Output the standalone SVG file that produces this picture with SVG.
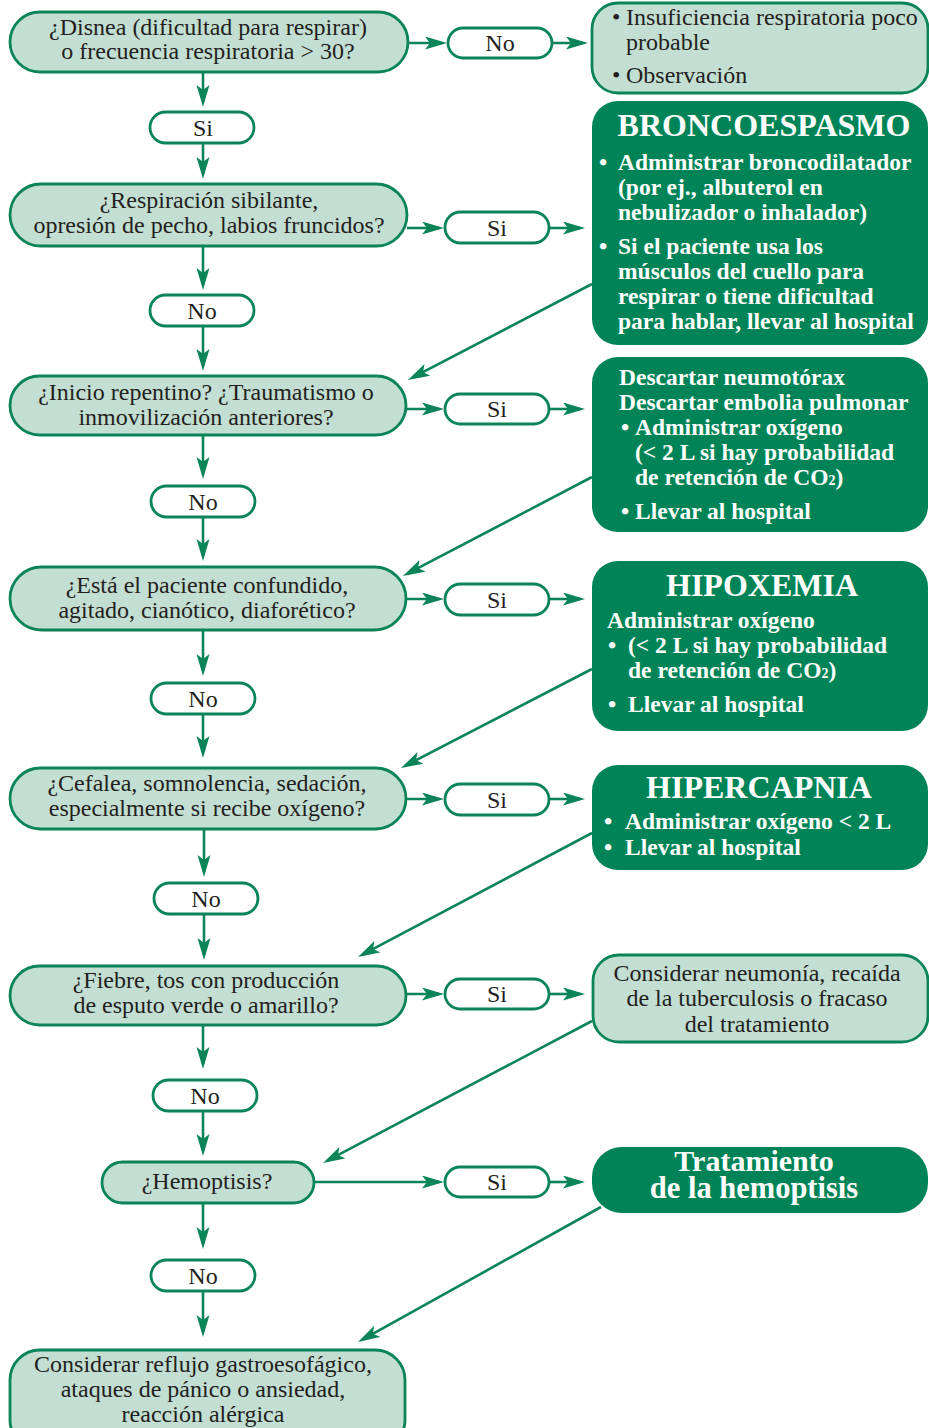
<svg xmlns="http://www.w3.org/2000/svg" width="929" height="1428" viewBox="0 0 929 1428">
  <defs>
    <style>
      .q { fill: #c3ded2; stroke: #0a8458; stroke-width: 2.8; }
      .d { fill: #008457; }
      .p { fill: #ffffff; stroke: #0a8458; stroke-width: 2.8; }
      .t { font-family: "Liberation Serif", "Times New Roman", serif; font-size: 24px; fill: #231f20; }
      .c { text-anchor: middle; }
      .w { font-weight: bold; fill: #ffffff; font-size: 23.5px; }
      .h { font-size: 32px; }
      .conn line { stroke: #0a8458; stroke-width: 2.6; fill: none; marker-end: url(#ah); }
    </style>
    <marker id="ah" markerUnits="userSpaceOnUse" markerWidth="24" markerHeight="14" refX="17" refY="6.5" orient="auto">
      <path d="M0,0 L22,6.5 L0,13 L5,6.5 Z" fill="#0a8458"/>
    </marker>
  </defs>
  <rect width="929" height="1428" fill="#ffffff"/>

  <!-- connectors -->
  <g id="connectors" class="conn">
    <!-- main vertical chain -->
    <line x1="203" y1="72" x2="203" y2="102"/>
    <line x1="203" y1="143" x2="203" y2="174"/>
    <line x1="203" y1="246" x2="203" y2="285"/>
    <line x1="203" y1="326" x2="203" y2="366"/>
    <line x1="203" y1="435" x2="203" y2="474"/>
    <line x1="203" y1="517" x2="203" y2="556"/>
    <line x1="203" y1="630" x2="203" y2="671"/>
    <line x1="203" y1="714" x2="203" y2="753"/>
    <line x1="204" y1="829" x2="204" y2="872"/>
    <line x1="204" y1="914" x2="204" y2="955"/>
    <line x1="203" y1="1025" x2="203" y2="1064"/>
    <line x1="203" y1="1111" x2="203" y2="1151"/>
    <line x1="203" y1="1203" x2="203" y2="1244"/>
    <line x1="203" y1="1291" x2="203" y2="1332"/>
    <!-- horizontal branches -->
    <line x1="408" y1="43" x2="442" y2="43"/>
    <line x1="552" y1="43" x2="583" y2="43"/>
    <line x1="407" y1="228" x2="439" y2="228"/>
    <line x1="549" y1="228" x2="580" y2="228"/>
    <line x1="406" y1="409" x2="439" y2="409"/>
    <line x1="549" y1="409" x2="580" y2="409"/>
    <line x1="406" y1="599" x2="439" y2="599"/>
    <line x1="549" y1="599" x2="580" y2="599"/>
    <line x1="406" y1="799" x2="439" y2="799"/>
    <line x1="549" y1="799" x2="580" y2="799"/>
    <line x1="406" y1="994" x2="439" y2="994"/>
    <line x1="549" y1="994" x2="580" y2="994"/>
    <line x1="314" y1="1182" x2="439" y2="1182"/>
    <line x1="549" y1="1182" x2="580" y2="1182"/>
    <!-- return links from the result boxes -->
    <line x1="592" y1="284" x2="412.4" y2="377.7"/>
    <line x1="592" y1="477" x2="407.4" y2="573.7"/>
    <line x1="592" y1="669" x2="405.4" y2="765.7"/>
    <line x1="592" y1="833" x2="362.4" y2="954.7"/>
    <line x1="592" y1="1021" x2="327.4" y2="1160.7"/>
    <line x1="601" y1="1207" x2="362.4" y2="1339.6"/>
  </g>

  <!-- questions -->
  <g id="q1">
    <rect class="q" x="10" y="12" width="398" height="60" rx="30"/>
    <text class="t c" x="208" y="35">¿Disnea (dificultad para respirar)</text>
    <text class="t c" x="208" y="59">o frecuencia respiratoria &gt; 30?</text>
  </g>
  <g id="q2">
    <rect class="q" x="10" y="184" width="397" height="62" rx="31"/>
    <text class="t c" x="209" y="208">¿Respiración sibilante,</text>
    <text class="t c" x="209" y="233">opresión de pecho, labios fruncidos?</text>
  </g>
  <g id="q3">
    <rect class="q" x="10" y="376" width="396" height="59" rx="29.5"/>
    <text class="t c" x="206" y="400">¿Inicio repentino? ¿Traumatismo o</text>
    <text class="t c" x="206" y="425">inmovilización anteriores?</text>
  </g>
  <g id="q4">
    <rect class="q" x="10" y="567" width="396" height="63" rx="31.5"/>
    <text class="t c" x="207" y="593">¿Está el paciente confundido,</text>
    <text class="t c" x="207" y="618">agitado, cianótico, diaforético?</text>
  </g>
  <g id="q5">
    <rect class="q" x="10" y="768" width="396" height="61" rx="30.5"/>
    <text class="t c" x="207" y="791">¿Cefalea, somnolencia, sedación,</text>
    <text class="t c" x="207" y="816">especialmente si recibe oxígeno?</text>
  </g>
  <g id="q6">
    <rect class="q" x="10" y="966" width="396" height="59" rx="29.5"/>
    <text class="t c" x="206" y="988">¿Fiebre, tos con producción</text>
    <text class="t c" x="206" y="1013">de esputo verde o amarillo?</text>
  </g>
  <g id="q7">
    <rect class="q" x="102" y="1162" width="212" height="41" rx="20.5"/>
    <text class="t c" x="207" y="1189">¿Hemoptisis?</text>
  </g>
  <g id="end-other">
    <rect class="q" x="10" y="1350" width="395" height="100" rx="30"/>
    <text class="t c" x="203" y="1372">Considerar reflujo gastroesofágico,</text>
    <text class="t c" x="203" y="1397">ataques de pánico o ansiedad,</text>
    <text class="t c" x="203" y="1422">reacción alérgica</text>
  </g>

  <!-- answer labels -->
  <g id="a-no-1"><rect class="p" x="448" y="28" width="104" height="30" rx="15"/><text class="t c" x="500" y="51">No</text></g>
  <g id="a-si-1"><rect class="p" x="150" y="112" width="104" height="31" rx="15.5"/><text class="t c" x="203" y="136">Si</text></g>
  <g id="a-si-2"><rect class="p" x="445" y="212" width="104" height="31" rx="15.5"/><text class="t c" x="497" y="236">Si</text></g>
  <g id="a-no-2"><rect class="p" x="150" y="295" width="104" height="31" rx="15.5"/><text class="t c" x="202" y="319">No</text></g>
  <g id="a-si-3"><rect class="p" x="445" y="394" width="104" height="30" rx="15"/><text class="t c" x="497" y="417">Si</text></g>
  <g id="a-no-3"><rect class="p" x="151" y="486" width="104" height="31" rx="15.5"/><text class="t c" x="203" y="510">No</text></g>
  <g id="a-si-4"><rect class="p" x="445" y="584" width="104" height="31" rx="15.5"/><text class="t c" x="497" y="608">Si</text></g>
  <g id="a-no-4"><rect class="p" x="151" y="683" width="104" height="31" rx="15.5"/><text class="t c" x="203" y="707">No</text></g>
  <g id="a-si-5"><rect class="p" x="445" y="784" width="104" height="31" rx="15.5"/><text class="t c" x="497" y="808">Si</text></g>
  <g id="a-no-5"><rect class="p" x="154" y="883" width="104" height="31" rx="15.5"/><text class="t c" x="206" y="907">No</text></g>
  <g id="a-si-6"><rect class="p" x="445" y="979" width="104" height="30" rx="15"/><text class="t c" x="497" y="1002">Si</text></g>
  <g id="a-no-6"><rect class="p" x="153" y="1080" width="104" height="31" rx="15.5"/><text class="t c" x="205" y="1104">No</text></g>
  <g id="a-si-7"><rect class="p" x="445" y="1167" width="104" height="30" rx="15"/><text class="t c" x="497" y="1190">Si</text></g>
  <g id="a-no-7"><rect class="p" x="151" y="1260" width="104" height="31" rx="15.5"/><text class="t c" x="203" y="1284">No</text></g>

  <!-- outcomes -->
  <g id="r-observacion">
    <rect class="q" x="592" y="3" width="336" height="90" rx="26"/>
    <text class="t" x="612" y="25">•</text>
    <text class="t" x="626" y="25">Insuficiencia respiratoria poco</text>
    <text class="t" x="626" y="50">probable</text>
    <text class="t" x="612" y="83">•</text>
    <text class="t" x="626" y="83">Observación</text>
  </g>
  <g id="r-broncoespasmo">
    <rect class="d" x="592" y="101" width="336" height="244" rx="26"/>
    <text class="t w h c" x="764" y="136">BRONCOESPASMO</text>
    <text class="t w" x="599" y="170">•</text>
    <text class="t w" x="618" y="170">Administrar broncodilatador</text>
    <text class="t w" x="618" y="195">(por ej., albuterol en</text>
    <text class="t w" x="618" y="220">nebulizador o inhalador)</text>
    <text class="t w" x="599" y="254">•</text>
    <text class="t w" x="618" y="254">Si el paciente usa los</text>
    <text class="t w" x="618" y="279">músculos del cuello para</text>
    <text class="t w" x="618" y="304">respirar o tiene dificultad</text>
    <text class="t w" x="618" y="329">para hablar, llevar al hospital</text>
  </g>
  <g id="r-descartar">
    <rect class="d" x="592" y="357" width="336" height="175" rx="26"/>
    <text class="t w" x="619" y="385">Descartar neumotórax</text>
    <text class="t w" x="619" y="410">Descartar embolia pulmonar</text>
    <text class="t w" x="621" y="435">•</text>
    <text class="t w" x="635" y="435">Administrar oxígeno</text>
    <text class="t w" x="635" y="460">(&lt; 2 L si hay probabilidad</text>
    <text class="t w" x="635" y="485">de retención de CO<tspan font-size="14">2</tspan>)</text>
    <text class="t w" x="621" y="519">•</text>
    <text class="t w" x="635" y="519">Llevar al hospital</text>
  </g>
  <g id="r-hipoxemia">
    <rect class="d" x="592" y="561" width="336" height="170" rx="26"/>
    <text class="t w h c" x="762" y="596">HIPOXEMIA</text>
    <text class="t w" x="607" y="628">Administrar oxígeno</text>
    <text class="t w" x="608" y="653">•</text>
    <text class="t w" x="628" y="653">(&lt; 2 L si hay probabilidad</text>
    <text class="t w" x="628" y="678">de retención de CO<tspan font-size="14">2</tspan>)</text>
    <text class="t w" x="608" y="712">•</text>
    <text class="t w" x="628" y="712">Llevar al hospital</text>
  </g>
  <g id="r-hipercapnia">
    <rect class="d" x="592" y="765" width="336" height="105" rx="26"/>
    <text class="t w h c" x="759" y="798">HIPERCAPNIA</text>
    <text class="t w" x="604" y="829">•</text>
    <text class="t w" x="625" y="829">Administrar oxígeno &lt; 2 L</text>
    <text class="t w" x="604" y="855">•</text>
    <text class="t w" x="625" y="855">Llevar al hospital</text>
  </g>
  <g id="r-neumonia">
    <rect class="q" x="593" y="955" width="335" height="87" rx="26"/>
    <text class="t c" x="757" y="981">Considerar neumonía, recaída</text>
    <text class="t c" x="757" y="1006">de la tuberculosis o fracaso</text>
    <text class="t c" x="757" y="1032">del tratamiento</text>
  </g>
  <g id="r-hemoptisis">
    <rect class="d" x="592" y="1147" width="336" height="66" rx="30"/>
    <text class="t w c" x="754" y="1171" style="font-size:30px">Tratamiento<tspan x="754" dy="27" style="font-size:30.5px">de la hemoptisis</tspan></text>
  </g>
</svg>
